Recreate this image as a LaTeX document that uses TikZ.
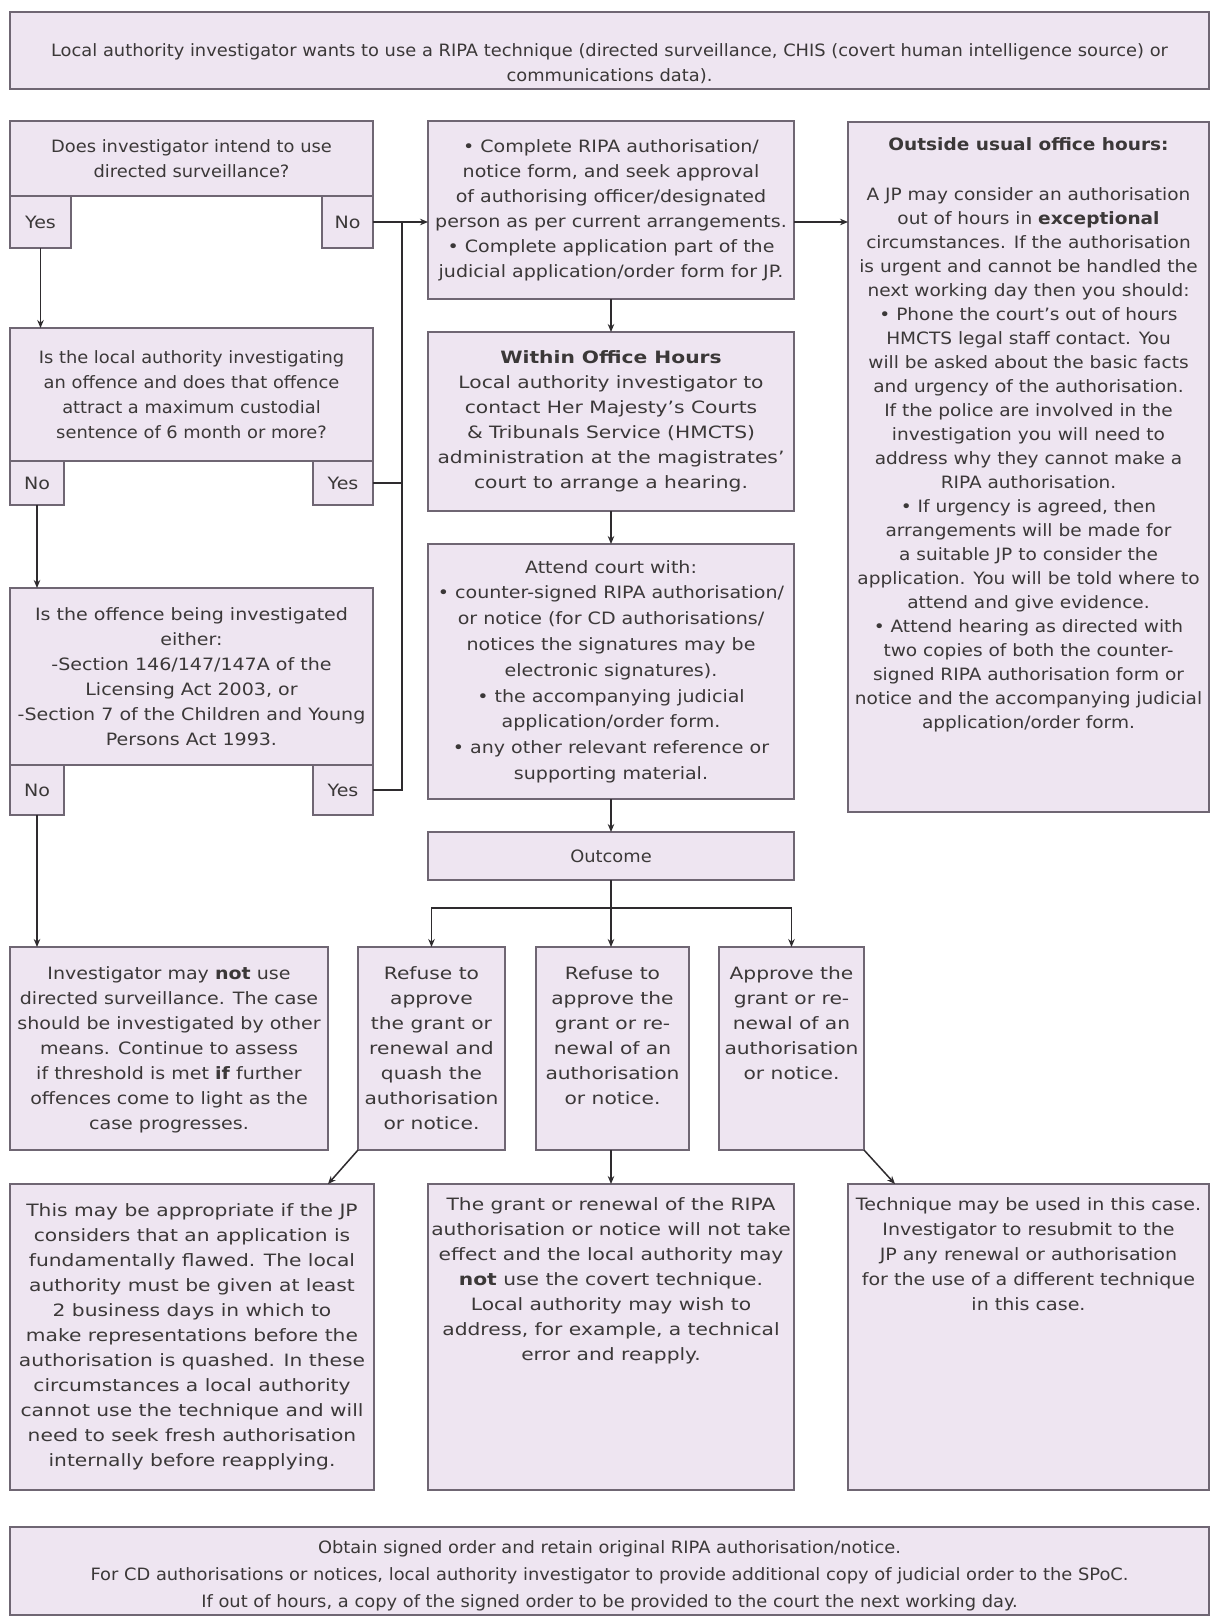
\documentclass[tikz,border=0pt]{standalone}
\usepackage{fontspec}
\setmainfont{DejaVu Sans}[FakeStretch=1.12]
\newfontfamily\tightfont{DejaVu Sans}[FakeStretch=1.05, Ligatures=TeX]
\newfontfamily\loosefont{DejaVu Sans}[FakeStretch=1.19, Ligatures=TeX]
\newfontfamily\sidefont{DejaVu Sans}[FakeStretch=1.09, Ligatures=TeX]
\usepackage{xcolor}
\usetikzlibrary{positioning,arrows.meta,calc}
\definecolor{panelfill}{HTML}{EEE5F1}
\definecolor{paneledge}{HTML}{6F6673}
\definecolor{inktext}{HTML}{3B3838}
\definecolor{linkcol}{HTML}{2E2B2E}

\begin{document}
\begin{tikzpicture}[
  x=1pt, y=-1pt,
  font=\fontsize{17}{25}\selectfont,
  text=inktext,
  panel/.style={rectangle, draw=paneledge, fill=panelfill, line width=1.6pt, inner sep=0pt, outer sep=0pt, anchor=north west, align=center},
  tab/.style={panel},
  txt/.style={align=center, inner sep=0pt, anchor=north},
  tight/.style={font=\tightfont\fontsize{17}{25}\selectfont},
  loose/.style={font=\loosefont\fontsize{17}{25}\selectfont},
  link/.style={draw=linkcol, line width=1.5pt},
  arrow/.style={link, -{Stealth[length=8pt, width=6.5pt]}},
]
\fill[white] (0,0) rectangle (1211,1617);

% start of the procedure
\node[panel, minimum width=1199pt, minimum height=77pt] (start) at (10,12) {};
\node[txt, tight, anchor=center] at ($(start.center)+(0,13)$) {Local authority investigator wants to use a RIPA technique (directed surveillance, CHIS (covert human intelligence source) or\\communications data).};

% left column - threshold questions
\node[panel, tight, minimum width=363pt, minimum height=75pt] (q1) at (10,121) {Does investigator intend to use\\directed surveillance?};
\node[tab, minimum width=61pt, minimum height=52pt] (q1yes) at (10,196) {Yes};
\node[tab, minimum width=51pt, minimum height=52pt] (q1no) at (322,196) {No};

\node[panel, tight, minimum width=363pt, minimum height=133pt] (q2) at (10,328) {Is the local authority investigating\\an offence and does that offence\\attract a maximum custodial\\sentence of 6 month or more?};
\node[tab, minimum width=54pt, minimum height=44pt] (q2no) at (10,461) {No};
\node[tab, minimum width=60pt, minimum height=44pt] (q2yes) at (313,461) {Yes};

\node[panel, minimum width=363pt, minimum height=177pt] (q3) at (10,588) {Is the offence being investigated\\either:\\-Section 146/147/147A of the\\Licensing Act 2003, or\\-Section 7 of the Children and Young\\Persons Act 1993.};
\node[tab, minimum width=54pt, minimum height=50pt] (q3no) at (10,765) {No};
\node[tab, minimum width=60pt, minimum height=50pt] (q3yes) at (313,765) {Yes};

\coordinate (bus) at (402,0);

% middle column - application route
\node[panel, minimum width=366pt, minimum height=178pt] (apply) at (428,121) {• Complete RIPA authorisation/\\notice form, and seek approval\\of authorising officer/designated\\person as per current arrangements.\\• Complete application part of the\\judicial application/order form for JP.};
\node[panel, loose, minimum width=366pt, minimum height=179pt] (office) at (428,332) {\textbf{Within Office Hours}\\Local authority investigator to\\contact Her Majesty's Courts\\\& Tribunals Service (HMCTS)\\administration at the magistrates'\\court to arrange a hearing.};
\node[panel, font=\fontsize{17}{25.8}\selectfont, minimum width=366pt, minimum height=255pt] (court) at (428,544) {Attend court with:\\• counter-signed RIPA authorisation/\\or notice (for CD authorisations/\\notices the signatures may be\\electronic signatures).\\• the accompanying judicial\\application/order form.\\• any other relevant reference or\\supporting material.};
\node[panel, tight, minimum width=366pt, minimum height=48pt] (outcome) at (428,832) {Outcome};

% right column - out of hours
\node[panel, minimum width=361pt, minimum height=690pt] (outhours) at (848,122) {};
\node[txt, font=\sidefont\fontsize{17}{24}\selectfont] at ($(outhours.north)+(0,15)$) {\textbf{Outside usual office hours:}\\[26pt]A JP may consider an authorisation\\out of hours in \textbf{exceptional}\\circumstances. If the authorisation\\is urgent and cannot be handled the\\next working day then you should:\\• Phone the court's out of hours\\HMCTS legal staff contact. You\\will be asked about the basic facts\\and urgency of the authorisation.\\If the police are involved in the\\investigation you will need to\\address why they cannot make a\\RIPA authorisation.\\• If urgency is agreed, then\\arrangements will be made for\\a suitable JP to consider the\\application. You will be told where to\\attend and give evidence.\\• Attend hearing as directed with\\two copies of both the counter-\\signed RIPA authorisation form or\\notice and the accompanying judicial\\application/order form.};

% outcomes
\node[panel, minimum width=318pt, minimum height=203pt] (notused) at (10,947) {};
\node[txt] at ($(notused.north)+(0,19)$) {Investigator may \textbf{not} use\\directed surveillance. The case\\should be investigated by other\\means. Continue to assess\\if threshold is met \textbf{if} further\\offences come to light as the\\case progresses.};
\node[panel, minimum width=147pt, minimum height=203pt] (quash) at (358,947) {};
\node[txt, loose] at ($(quash.north)+(0,19)$) {Refuse to\\approve\\the grant or\\renewal and\\quash the\\authorisation\\or notice.};
\node[panel, minimum width=153pt, minimum height=203pt] (refuse) at (536,947) {};
\node[txt, loose] at ($(refuse.north)+(0,19)$) {Refuse to\\approve the\\grant or re-\\newal of an\\authorisation\\or notice.};
\node[panel, minimum width=145pt, minimum height=203pt] (approve) at (719,947) {};
\node[txt, loose] at ($(approve.north)+(0,19)$) {Approve the\\grant or re-\\newal of an\\authorisation\\or notice.};

% consequences
\node[panel, loose, minimum width=364pt, minimum height=306pt] (flawed) at (10,1184) {This may be appropriate if the JP\\considers that an application is\\fundamentally flawed. The local\\authority must be given at least\\2 business days in which to\\make representations before the\\authorisation is quashed. In these\\circumstances a local authority\\cannot use the technique and will\\need to seek fresh authorisation\\internally before reapplying.};
\node[panel, minimum width=366pt, minimum height=306pt] (noeffect) at (428,1184) {};
\node[txt, loose] at ($(noeffect.north)+(0,13)$) {The grant or renewal of the RIPA\\authorisation or notice will not take\\effect and the local authority may\\\textbf{not} use the covert technique.\\Local authority may wish to\\address, for example, a technical\\error and reapply.};
\node[panel, minimum width=361pt, minimum height=306pt] (used) at (848,1184) {};
\node[txt] at ($(used.north)+(0,13)$) {Technique may be used in this case.\\Investigator to resubmit to the\\JP any renewal or authorisation\\for the use of a different technique\\in this case.};

% final step
\node[panel, minimum width=1199pt, minimum height=88pt] (finish) at (10,1527) {};
\node[txt, anchor=center, font=\tightfont\fontsize{17}{27}\selectfont] at ($(finish.center)+(0,5)$) {Obtain signed order and retain original RIPA authorisation/notice.\\For CD authorisations or notices, local authority investigator to provide additional copy of judicial order to the SPoC.\\If out of hours, a copy of the signed order to be provided to the court the next working day.};

% connectors
\draw[arrow] (q1yes.south) -- (q1yes.south |- q2.north);
\draw[arrow] (q2no.south) -- (q2no.south |- q3.north);
\draw[arrow] (q3no.south) -- (q3no.south |- notused.north);
\draw[link] (q3yes.east) -- (q3yes.east -| bus) -- (q1no.east -| bus);
\draw[link] (q2yes.east) -- (q2yes.east -| bus);
\draw[arrow] (q1no.east) -- (q1no.east -| apply.west);
\draw[arrow] (q1no.east -| apply.east) -- (q1no.east -| outhours.west);
\draw[arrow] (apply.south) -- (office.north);
\draw[arrow] (office.south) -- (court.north);
\draw[arrow] (court.south) -- (outcome.north);
\coordinate (split) at ($(outcome.south)+(0,28)$);
\draw[arrow] (outcome.south) -- (outcome.south |- refuse.north);
\draw[arrow] (split) -| (quash.north);
\draw[arrow] (split) -| (approve.north);
\coordinate (flawedin) at ($(flawed.north east)+(-46,0)$);
\coordinate (usedin) at ($(used.north west)+(47,0)$);
\draw[arrow] (quash.south west) -- (flawedin);
\draw[arrow] (refuse.south -| noeffect.north) -- (noeffect.north);
\draw[arrow] (approve.south east) -- (usedin);
\end{tikzpicture}
\end{document}
